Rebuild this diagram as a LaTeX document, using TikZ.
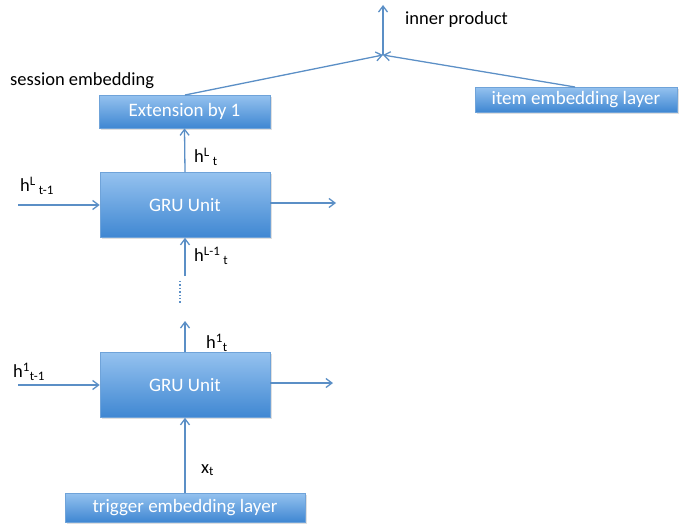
\documentclass[tikz,border=0pt]{standalone}
\usepackage{fontspec}
\setmainfont{Carlito}
\usetikzlibrary{arrows.meta,shadows}
\definecolor{arr}{HTML}{5B8FC6}
\definecolor{boxtop}{HTML}{95C2EF}
\definecolor{boxbot}{HTML}{3F87D2}
\definecolor{boxline}{HTML}{6FA3D9}
\tikzset{
  box/.style={draw=boxline, line width=0.6pt, top color=boxtop, bottom color=boxbot,
    text=white, font=\fontsize{19}{22}\selectfont, inner sep=0pt,
    drop shadow={shadow xshift=1.5pt, shadow yshift=-1.5pt, opacity=0.25}},
  conn/.style={draw=arr, line width=1.3pt, -{Straight Barb[length=6pt,width=9pt,line width=1.3pt]}},
  lab/.style={font=\fontsize{18.5}{22}\selectfont, anchor=west, inner sep=0pt},
}
\begin{document}
\begin{tikzpicture}[x=1pt,y=-1pt]
\useasboundingbox (0,0) rectangle (680,527);
% boxes
\node[box, minimum width=171pt, minimum height=33pt] (ext) at (184.5,111.5) {Extension by 1};
\node[box, minimum width=202pt, minimum height=25pt] (item) at (576,99.5) {item embedding layer};
\node[box, minimum width=170pt, minimum height=65pt] (gru1) at (185,205) {GRU Unit};
\node[box, minimum width=170pt, minimum height=65pt] (gru2) at (185,385) {GRU Unit};
\node[box, minimum width=240pt, minimum height=29pt] (trig) at (185,507.5) {trigger embedding layer};
% coordinates
\coordinate (j) at (383,55);
\coordinate (top) at (383,5);
\coordinate (l1) at (18,205);
\coordinate (r1) at (336,203);
\coordinate (l2) at (18,385);
\coordinate (r2) at (333,383);
\coordinate (mid) at (185,276);
\coordinate (up2) at (185,321);
\coordinate (extS) at (185,95);
\coordinate (itemS) at (575,87);
% connectors
\draw[conn] (extS) -- (j);
\draw[conn] (itemS) -- (j);
\draw[conn] (j) -- (top);
\draw[conn] (gru1.north) -- (ext.south);
\draw[conn] (l1) -- (gru1.west);
\draw[conn] (gru1.east |- r1) -- (r1);
\draw[conn] (mid) -- (gru1.south);
\draw[draw=arr, line width=1.4pt, dotted] (180,281) -- (180,304);
\draw[conn] (gru2.north) -- (up2);
\draw[conn] (l2) -- (gru2.west);
\draw[conn] (gru2.east |- r2) -- (r2);
\draw[conn] (trig.north) -- (gru2.south);
% labels
\node[lab] (ip) at (405,20) {inner product};
\node[lab] (se) at (10,81) {session embedding};
\node[lab] (hLt) at (194,157) {h\textsuperscript{L}\,\textsubscript{t}};
\node[lab] (hLt1) at (20,186) {h\textsuperscript{L}\,\textsubscript{t-1}};
\node[lab] (hL1t) at (194,256) {h\textsuperscript{L-1}\,\textsubscript{t}};
\node[lab] (h1t) at (206,343) {h\textsuperscript{1}\textsubscript{t}};
\node[lab] (h1t1) at (13,372) {h\textsuperscript{1}\textsubscript{t-1}};
\node[lab] (xt) at (201,470) {x\textsubscript{t}};
\end{tikzpicture}
\end{document}
